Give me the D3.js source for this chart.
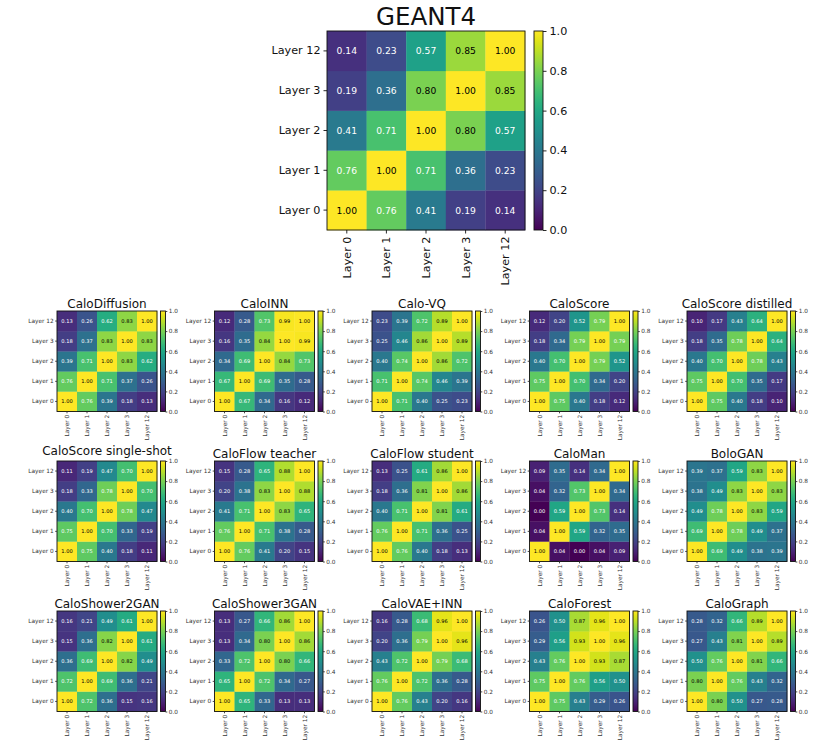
<!DOCTYPE html>
<html><head><meta charset="utf-8">
<script src="https://cdn.jsdelivr.net/npm/d3@7"></script>
<style>body{margin:0;background:#fff;} svg{display:block;font-family:"DejaVu Sans",sans-serif;}</style>
</head><body>
<svg id="chart" width="814" height="742"></svg>
<script>
// Layers (rows listed from Layer 0 to Layer 12)
const layers = ["Layer 0", "Layer 1", "Layer 2", "Layer 3", "Layer 12"];
const cbarTicks = [0.0, 0.2, 0.4, 0.6, 0.8, 1.0];

const geant4 = [
  [1.00, 0.76, 0.41, 0.19, 0.14],
  [0.76, 1.00, 0.71, 0.36, 0.23],
  [0.41, 0.71, 1.00, 0.80, 0.57],
  [0.19, 0.36, 0.80, 1.00, 0.85],
  [0.14, 0.23, 0.57, 0.85, 1.00]];
const caloDiffusion = [
  [1.00, 0.76, 0.39, 0.18, 0.13],
  [0.76, 1.00, 0.71, 0.37, 0.26],
  [0.39, 0.71, 1.00, 0.83, 0.62],
  [0.18, 0.37, 0.83, 1.00, 0.83],
  [0.13, 0.26, 0.62, 0.83, 1.00]];
const caloINN = [
  [1.00, 0.67, 0.34, 0.16, 0.12],
  [0.67, 1.00, 0.69, 0.35, 0.28],
  [0.34, 0.69, 1.00, 0.84, 0.73],
  [0.16, 0.35, 0.84, 1.00, 0.99],
  [0.12, 0.28, 0.73, 0.99, 1.00]];
const caloVQ = [
  [1.00, 0.71, 0.40, 0.25, 0.23],
  [0.71, 1.00, 0.74, 0.46, 0.39],
  [0.40, 0.74, 1.00, 0.86, 0.72],
  [0.25, 0.46, 0.86, 1.00, 0.89],
  [0.23, 0.39, 0.72, 0.89, 1.00]];
const caloScore = [
  [1.00, 0.75, 0.40, 0.18, 0.12],
  [0.75, 1.00, 0.70, 0.34, 0.20],
  [0.40, 0.70, 1.00, 0.79, 0.52],
  [0.18, 0.34, 0.79, 1.00, 0.79],
  [0.12, 0.20, 0.52, 0.79, 1.00]];
const caloScoreDistilled = [
  [1.00, 0.75, 0.40, 0.18, 0.10],
  [0.75, 1.00, 0.70, 0.35, 0.17],
  [0.40, 0.70, 1.00, 0.78, 0.43],
  [0.18, 0.35, 0.78, 1.00, 0.64],
  [0.10, 0.17, 0.43, 0.64, 1.00]];
const caloScoreSingleShot = [
  [1.00, 0.75, 0.40, 0.18, 0.11],
  [0.75, 1.00, 0.70, 0.33, 0.19],
  [0.40, 0.70, 1.00, 0.78, 0.47],
  [0.18, 0.33, 0.78, 1.00, 0.70],
  [0.11, 0.19, 0.47, 0.70, 1.00]];
const caloFlowTeacher = [
  [1.00, 0.76, 0.41, 0.20, 0.15],
  [0.76, 1.00, 0.71, 0.38, 0.28],
  [0.41, 0.71, 1.00, 0.83, 0.65],
  [0.20, 0.38, 0.83, 1.00, 0.88],
  [0.15, 0.28, 0.65, 0.88, 1.00]];
const caloFlowStudent = [
  [1.00, 0.76, 0.40, 0.18, 0.13],
  [0.76, 1.00, 0.71, 0.36, 0.25],
  [0.40, 0.71, 1.00, 0.81, 0.61],
  [0.18, 0.36, 0.81, 1.00, 0.86],
  [0.13, 0.25, 0.61, 0.86, 1.00]];
const caloMan = [
  [1.00, 0.04, 0.00, 0.04, 0.09],
  [0.04, 1.00, 0.59, 0.32, 0.35],
  [0.00, 0.59, 1.00, 0.73, 0.14],
  [0.04, 0.32, 0.73, 1.00, 0.34],
  [0.09, 0.35, 0.14, 0.34, 1.00]];
const boloGAN = [
  [1.00, 0.69, 0.49, 0.38, 0.39],
  [0.69, 1.00, 0.78, 0.49, 0.37],
  [0.49, 0.78, 1.00, 0.83, 0.59],
  [0.38, 0.49, 0.83, 1.00, 0.83],
  [0.39, 0.37, 0.59, 0.83, 1.00]];
const caloShower2GAN = [
  [1.00, 0.72, 0.36, 0.15, 0.16],
  [0.72, 1.00, 0.69, 0.36, 0.21],
  [0.36, 0.69, 1.00, 0.82, 0.49],
  [0.15, 0.36, 0.82, 1.00, 0.61],
  [0.16, 0.21, 0.49, 0.61, 1.00]];
const caloShower3GAN = [
  [1.00, 0.65, 0.33, 0.13, 0.13],
  [0.65, 1.00, 0.72, 0.34, 0.27],
  [0.33, 0.72, 1.00, 0.80, 0.66],
  [0.13, 0.34, 0.80, 1.00, 0.86],
  [0.13, 0.27, 0.66, 0.86, 1.00]];
const caloVAEINN = [
  [1.00, 0.76, 0.43, 0.20, 0.16],
  [0.76, 1.00, 0.72, 0.36, 0.28],
  [0.43, 0.72, 1.00, 0.79, 0.68],
  [0.20, 0.36, 0.79, 1.00, 0.96],
  [0.16, 0.28, 0.68, 0.96, 1.00]];
const caloForest = [
  [1.00, 0.75, 0.43, 0.29, 0.26],
  [0.75, 1.00, 0.76, 0.56, 0.50],
  [0.43, 0.76, 1.00, 0.93, 0.87],
  [0.29, 0.56, 0.93, 1.00, 0.96],
  [0.26, 0.50, 0.87, 0.96, 1.00]];
const caloGraph = [
  [1.00, 0.80, 0.50, 0.27, 0.28],
  [0.80, 1.00, 0.76, 0.43, 0.32],
  [0.50, 0.76, 1.00, 0.81, 0.66],
  [0.27, 0.43, 0.81, 1.00, 0.89],
  [0.28, 0.32, 0.66, 0.89, 1.00]];

const smallTitles = ["CaloDiffusion", "CaloINN", "Calo-VQ", "CaloScore", "CaloScore distilled",
  "CaloScore single-shot", "CaloFlow teacher", "CaloFlow student", "CaloMan", "BoloGAN",
  "CaloShower2GAN", "CaloShower3GAN", "CaloVAE+INN", "CaloForest", "CaloGraph"];
const smallMatrices = [caloDiffusion, caloINN, caloVQ, caloScore, caloScoreDistilled,
  caloScoreSingleShot, caloFlowTeacher, caloFlowStudent, caloMan, boloGAN,
  caloShower2GAN, caloShower3GAN, caloVAEINN, caloForest, caloGraph];

const svg = d3.select("#chart");
const color = d3.scaleSequential(d3.interpolateViridis).domain([0, 1]);
let gradCount = 0;

function heatmap(opt) {
  const g = svg.append("g");
  const x = d3.scaleBand().domain(layers).range([opt.x, opt.x + opt.w]);
  const y = d3.scaleBand().domain(layers).range([opt.y + opt.h, opt.y]);
  const cells = [];
  opt.m.forEach((row, i) => row.forEach((v, j) => cells.push({r: layers[i], c: layers[j], v})));
  g.selectAll("rect.cell").data(cells).join("rect")
    .attr("x", d => x(d.c)).attr("y", d => y(d.r))
    .attr("width", x.bandwidth() + 0.3).attr("height", y.bandwidth() + 0.3)
    .attr("fill", d => color(d.v));
  g.selectAll("text.val").data(cells).join("text")
    .attr("x", d => x(d.c) + x.bandwidth() / 2)
    .attr("y", d => y(d.r) + y.bandwidth() / 2)
    .attr("text-anchor", "middle").attr("dominant-baseline", "central")
    .attr("font-size", opt.valFont)
    .attr("fill", d => d.v >= 0.795 ? "#000" : "#fff")
    .text(d => d.v.toFixed(2));
  // frame
  g.append("rect").attr("x", opt.x).attr("y", opt.y).attr("width", opt.w).attr("height", opt.h)
    .attr("fill", "none").attr("stroke", "#111").attr("stroke-width", opt.sw);
  // left axis
  const ya = g.append("g").attr("transform", `translate(${opt.x},0)`)
    .call(d3.axisLeft(y).tickSize(opt.tick).tickPadding(opt.pad));
  ya.select(".domain").remove();
  ya.selectAll("line").attr("stroke-width", opt.sw).attr("stroke", opt.labelColor);
  ya.selectAll("text").attr("font-size", opt.tickFont).attr("fill", opt.labelColor).attr("font-family", "DejaVu Sans");
  // bottom axis
  const xa = g.append("g").attr("transform", `translate(0,${opt.y + opt.h})`)
    .call(d3.axisBottom(x).tickSize(opt.tick).tickPadding(opt.pad));
  xa.select(".domain").remove();
  xa.selectAll("line").attr("stroke-width", opt.sw).attr("stroke", opt.labelColor);
  xa.selectAll("text").attr("font-size", opt.tickFont).attr("fill", opt.labelColor).attr("font-family", "DejaVu Sans")
    .attr("transform", "rotate(-90)")
    .attr("text-anchor", "end").attr("dy", "0.35em")
    .attr("x", -(opt.tick + opt.pad)).attr("y", 0);
  // colorbar
  const id = "grad" + (gradCount++);
  const lg = svg.append("defs").append("linearGradient").attr("id", id)
    .attr("x1", 0).attr("y1", 1).attr("x2", 0).attr("y2", 0);
  d3.range(0, 1.0001, 0.05).forEach(t => lg.append("stop").attr("offset", t).attr("stop-color", color(t)));
  const cb = d3.scaleLinear().domain([0, 1]).range([opt.y + opt.h, opt.y]);
  g.append("rect").attr("x", opt.cbx).attr("y", opt.y).attr("width", opt.cbw).attr("height", opt.h)
    .attr("fill", `url(#${id})`).attr("stroke", "#111").attr("stroke-width", opt.sw);
  const ca = g.append("g").attr("transform", `translate(${opt.cbx + opt.cbw},0)`)
    .call(d3.axisRight(cb).tickValues(cbarTicks).tickFormat(d3.format(".1f")).tickSize(opt.tick).tickPadding(opt.pad));
  ca.select(".domain").remove();
  ca.selectAll("line").attr("stroke-width", opt.sw).attr("stroke", opt.labelColor);
  ca.selectAll("text").attr("font-size", opt.tickFont).attr("fill", opt.labelColor).attr("font-family", "DejaVu Sans");
  // title
  const t = g.append("text").attr("x", opt.x + opt.w / 2).attr("y", opt.y - opt.titleGap)
    .attr("text-anchor", "middle").attr("font-size", opt.titleFont).attr("fill", "#111")
    .text(opt.title);
  // if a long title runs over the colorbar's top label, lift it just clear
  const tb = t.node().getBBox();
  ca.selectAll("text").each(function () {
    const lb = this.getBoundingClientRect();
    if (tb.x + tb.width > lb.left && tb.y + tb.height > lb.top) {
      const lift = tb.y + tb.height - lb.top + 0.3;
      t.attr("y", opt.y - opt.titleGap - lift);
    }
  });
}

// big GEANT4 heatmap
heatmap({m: geant4, title: "GEANT4", x: 327, y: 31, w: 198, h: 199, cbx: 534, cbw: 9,
  valFont: 9.2, tickFont: 11.2, titleFont: 24.5, titleGap: 6, tick: 3.5, pad: 3, sw: 0.9,
  labelColor: "#111"});

// small panels
const colX = [57, 214.5, 372, 529.5, 687];
const rowY = [311, 461, 611];
smallMatrices.forEach((m, k) => {
  const cx = colX[k % 5], ry = rowY[Math.floor(k / 5)];
  heatmap({m, title: smallTitles[k], x: cx, y: ry, w: 100, h: 100.5, cbx: cx + 103.5, cbw: 5,
    valFont: 5.1, tickFont: 5.8, titleFont: 12, titleGap: 3, tick: 1.8, pad: 1.5, sw: 0.9,
    labelColor: "#333"});
});
</script>
</body></html>
